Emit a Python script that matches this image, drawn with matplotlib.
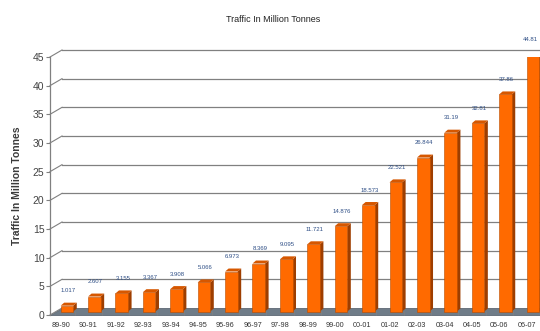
import numpy as np
import matplotlib
matplotlib.use("Agg")
import matplotlib.pyplot as plt
from matplotlib.patches import Polygon

plt.rcParams['font.family'] = ['Liberation Sans', 'DejaVu Sans']

# traffic per financial year, million tonnes
years = ['89-90', '90-91', '91-92', '92-93', '93-94', '94-95', '95-96', '96-97', '97-98',
         '98-99', '99-00', '00-01', '01-02', '02-03', '03-04', '04-05', '05-06', '06-07']
traffic = [1.017, 2.607, 3.155, 3.367, 3.908, 5.066, 6.973, 8.369, 9.095,
           11.721, 14.876, 18.573, 22.521, 26.844, 31.19, 32.81, 37.86, 44.81]
value_labels = ['1.017', '2.607', '3.155', '3.367', '3.908', '5.066', '6.973', '8.369', '9.095',
                '11.721', '14.876', '18.573', '22.521', '26.844', '31.19', '32.81', '37.86', '44.81']

fig = plt.figure(figsize=(5.4, 3.31), dpi=100)
ax = fig.add_axes([50/540, 16/331, 490/540, 258/331])

x = np.arange(len(years))
xmin, xmax = -0.40, 17.48
ax.set_xlim(xmin, xmax)
ax.set_ylim(0, 45)

# data units per pixel, used for the fake 3D depth
px = (xmax - xmin) / 490
py = 45 / 258

def shift(xv, yv, dx, dy):
    return (xv + dx * px, yv + dy * py)

grid_c = '#808080'
depth_x, depth_y = 12, 7

# floor
floor = Polygon([(xmin, 0), (xmax, 0), shift(xmax, 0, 0, depth_y), shift(xmin, 0, depth_x, depth_y)],
                closed=True, facecolor='#6f7c88', edgecolor='#5d6873', lw=0.6, clip_on=False, zorder=1)
ax.add_patch(floor)

# back wall gridlines and the diagonal joins to the front axis
for yv in range(5, 50, 5):
    x0, y0 = shift(xmin, yv, depth_x, depth_y)
    ax.plot([xmin, x0], [yv, y0], color=grid_c, lw=0.8, clip_on=False, zorder=1)
    ax.plot([x0, xmax], [y0, y0], color=grid_c, lw=0.9, clip_on=False, zorder=1)
x0, y0 = shift(xmin, 0, depth_x, depth_y)
ax.plot([xmin, x0], [0, y0], color=grid_c, lw=0.8, clip_on=False, zorder=2)

# bars: front face, right side and top
front = '#ff6a00'
side = '#9e3e00'
top = '#d65700'
bw = 0.46
bx, by = 6 * px, 3.5 * py
sx, sy = 3.5 * px, 3 * py
bars = ax.bar(x + bx, traffic, width=bw, bottom=by, color=front,
              edgecolor='#b84c00', linewidth=0.4, zorder=4)
for i, (xi, v, lab) in enumerate(zip(x + bx, traffic, value_labels)):
    r = xi + bw / 2
    l = xi - bw / 2
    t = by + v
    ax.add_patch(Polygon([(r, by), (r + sx, by + sy), (r + sx, t + sy), (r, t)],
                         closed=True, facecolor=side, edgecolor='none', zorder=3))
    ax.add_patch(Polygon([(l, t), (r, t), (r + sx, t + sy), (l + sx, t + sy)],
                         closed=True, facecolor=top, edgecolor='none', zorder=3))
    # keep the last label inside the figure edge
    if i == len(traffic) - 1:
        ax.text(xmax - 2 * px, t + 15 * py, lab, ha='right', va='center',
                fontsize=4.3, color='#2f4f86', clip_on=False, zorder=5)
    else:
        ax.text(xi + 1 * px, t + 15 * py, lab, ha='center', va='center',
                fontsize=4.3, color='#2f4f86', clip_on=False, zorder=5)

# axes styling
for s in ['top', 'right', 'bottom']:
    ax.spines[s].set_visible(False)
ax.spines['left'].set_color(grid_c)
ax.spines['left'].set_linewidth(0.9)

ax.set_yticks(range(0, 50, 5))
ax.tick_params(axis='y', length=3, color=grid_c, labelsize=7.5, labelcolor='#444444', pad=1)
ax.set_xticks(x)
ax.set_xticklabels(years)
ax.tick_params(axis='x', length=0, labelsize=5.2, labelcolor='#333333', pad=5)
ax.set_xticks(x[:-1] + 0.5, minor=True)
ax.tick_params(axis='x', which='minor', length=3, color=grid_c, direction='in')

ax.set_ylabel('Traffic In Million Tonnes', fontsize=7.5, fontweight='bold',
              color='#3a3a3a', labelpad=4)
ax.yaxis.set_label_coords(-0.058, 0.5)

fig.text(273/540, 1 - 19/331, 'Traffic In Million Tonnes', ha='center', va='center',
         fontsize=6.5, color='#222222')

fig.savefig('out.png', dpi=100)
